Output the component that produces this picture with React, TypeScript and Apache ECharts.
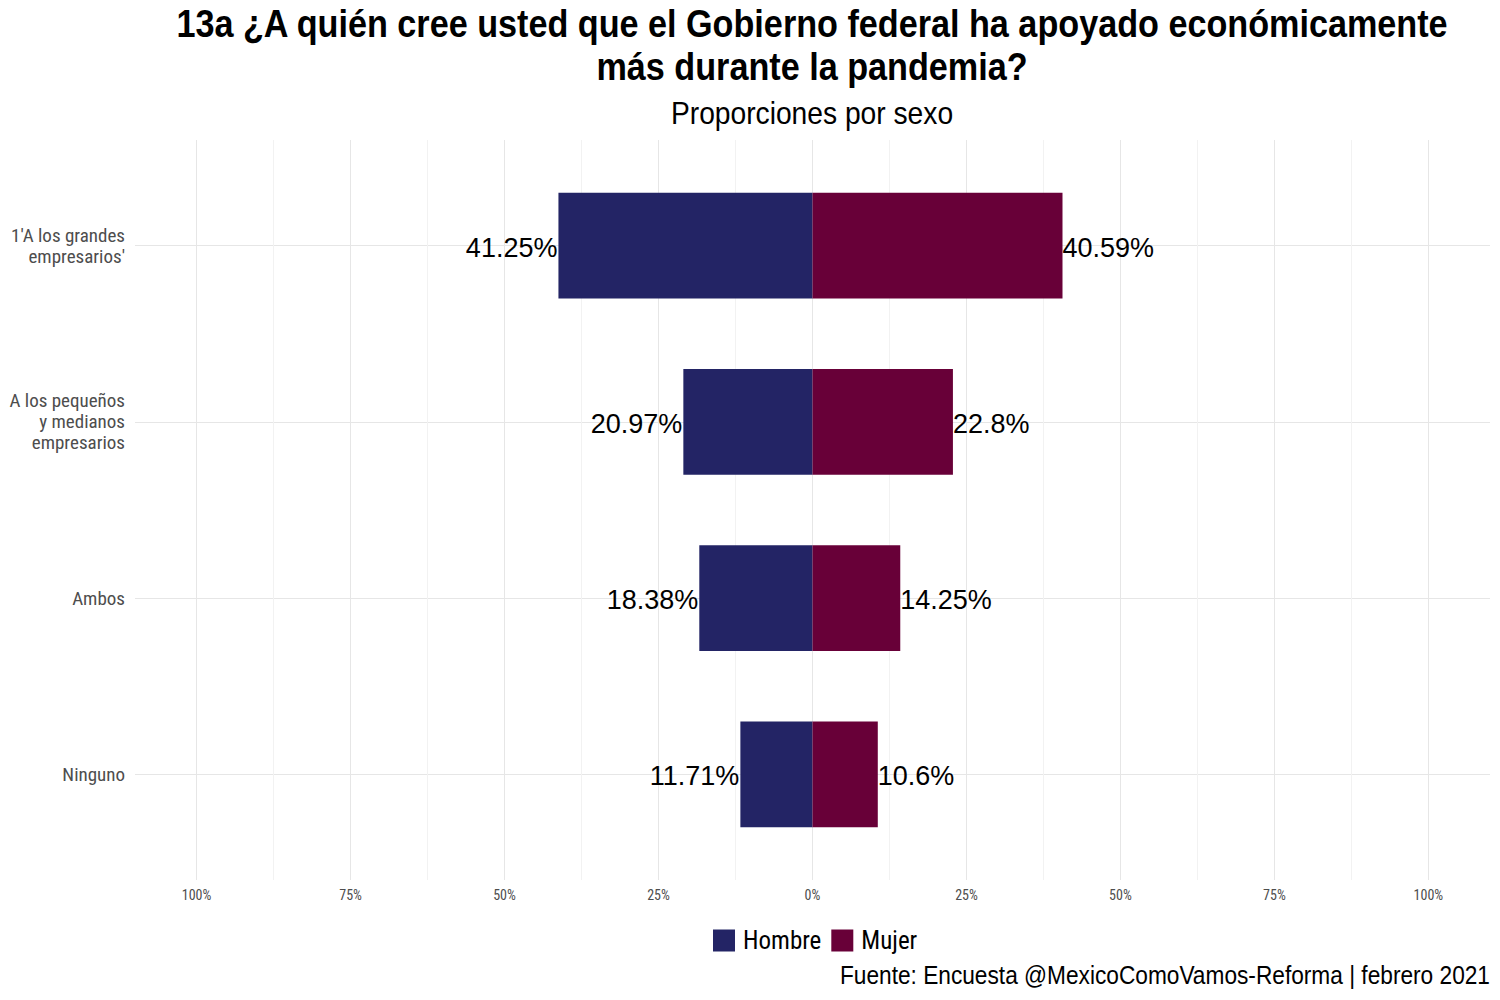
import React, { useEffect, useRef } from "react";
import * as echarts from "echarts";

const categories = ["1'A los grandes\nempresarios'", "A los pequeños\ny medianos\nempresarios", "Ambos", "Ninguno"];
const hombre = [41.25, 20.97, 18.38, 11.71];
const mujer = [40.59, 22.8, 14.25, 10.6];
const xLabelTicks = [-100, -75, -50, -25, 0, 25, 50, 75, 100];
const xGridTicks = [-100, -87.5, -75, -62.5, -50, -37.5, -25, -12.5, 0, 12.5, 25, 37.5, 50, 62.5, 75, 87.5, 100];
const yTicks = [1, 2, 3, 4];
const titleLines = ["13a ¿A quién cree usted que el Gobierno federal ha apoyado económicamente", "más durante la pandemia?"];
const subtitle = "Proporciones por sexo";
const caption = "Fuente: Encuesta @MexicoComoVamos-Reforma | febrero 2021";

const NARROW = "'Roboto Condensed', 'Liberation Sans Narrow', sans-serif";
const ARIAL = "'Liberation Sans', Arial, sans-serif";
const C_H = "#232465";
const C_M = "#680038";

export default function App() {
  const ref = useRef<HTMLDivElement>(null);
  useEffect(() => {
    const chart = echarts.init(ref.current!, null, { renderer: "svg" });
    const renderItem = (side: number) => (params: any, api: any) => {
      const v = api.value(0);
      const y = api.value(1);
      const a = api.coord([0, y - 0.3]);
      const b = api.coord([v, y + 0.3]);
      const c = api.coord([v, y]);
      const x0 = Math.min(a[0], b[0]);
      const y0 = Math.min(a[1], b[1]);
      const w = Math.abs(b[0] - a[0]);
      const h = Math.abs(b[1] - a[1]);
      return {
        type: "group",
        children: [
          { type: "rect", shape: { x: x0, y: y0, width: w, height: h }, style: { fill: api.visual("color") } },
          {
            type: "text",
            x: c[0] + (side < 0 ? -1 : 0),
            y: c[1] + 2,
            style: {
              text: Math.abs(v) + "%",
              fill: "#000",
              font: `27px ${ARIAL}`,
              align: side < 0 ? "right" : "left",
              verticalAlign: "middle",
            },
          },
        ],
      };
    };
    chart.setOption({
      animation: false,
      legend: {
        left: 713,
        top: 928,
        padding: 0,
        itemWidth: 22,
        itemHeight: 22,
        itemGap: 10,
        icon: "rect",
        textStyle: { fontFamily: NARROW, fontSize: 25, color: "#000", padding: [0, 0, 0, 3] },
        data: ["Hombre", "Mujer"],
      },
      graphic: [
        {
          type: "text",
          x: 812,
          y: 24,
          scaleX: 0.9,
          style: { text: titleLines[0], font: `bold 38px ${ARIAL}`, fill: "#000", align: "center", verticalAlign: "middle" },
        },
        {
          type: "text",
          x: 812,
          y: 67,
          scaleX: 0.9,
          style: { text: titleLines[1], font: `bold 38px ${ARIAL}`, fill: "#000", align: "center", verticalAlign: "middle" },
        },
        {
          type: "text",
          x: 812,
          y: 113,
          scaleX: 0.91,
          style: { text: subtitle, font: `31px ${ARIAL}`, fill: "#000", align: "center", verticalAlign: "middle" },
        },
        {
          type: "text",
          x: 1490,
          y: 975,
          scaleX: 0.89,
          style: { text: caption, font: `25.5px ${ARIAL}`, fill: "#000", align: "right", verticalAlign: "middle" },
        },
      ],
      grid: { left: 135, right: 10, top: 140, bottom: 120 },
      xAxis: {
        type: "value",
        min: -110,
        max: 110,
        axisLine: { show: false },
        axisTick: { show: false, customValues: xGridTicks },
        axisLabel: {
          customValues: xLabelTicks,
          formatter: (v: number) => Math.abs(v) + "%",
          fontFamily: NARROW,
          fontSize: 14,
          color: "#4d4d4d",
          margin: 8,
        },
        splitLine: { show: true, lineStyle: { color: ["#e6e6e6", "#f2f2f2"], width: 1 } },
      },
      yAxis: {
        type: "value",
        min: 0.4,
        max: 4.6,
        inverse: true,
        axisLine: { show: false },
        axisTick: { show: false, customValues: yTicks },
        axisLabel: {
          customValues: yTicks,
          formatter: (v: number) => categories[Math.round(v) - 1],
          fontFamily: NARROW,
          fontSize: 19,
          lineHeight: 21,
          color: "#4d4d4d",
          align: "right",
          margin: 10,
        },
        splitLine: { show: true, lineStyle: { color: "#e6e6e6", width: 1 } },
      },
      series: [
        {
          name: "Hombre",
          type: "custom",
          itemStyle: { color: C_H },
          renderItem: renderItem(-1),
          data: hombre.map((v, i) => [-v, i + 1]),
          encode: { x: 0, y: 1 },
        },
        {
          name: "Mujer",
          type: "custom",
          itemStyle: { color: C_M },
          renderItem: renderItem(1),
          data: mujer.map((v, i) => [v, i + 1]),
          encode: { x: 0, y: 1 },
        },
      ],
    });
    return () => chart.dispose();
  }, []);
  return <div ref={ref} style={{ width: 1500, height: 1000, position: "absolute", left: 0, top: 0 }} />;
}
